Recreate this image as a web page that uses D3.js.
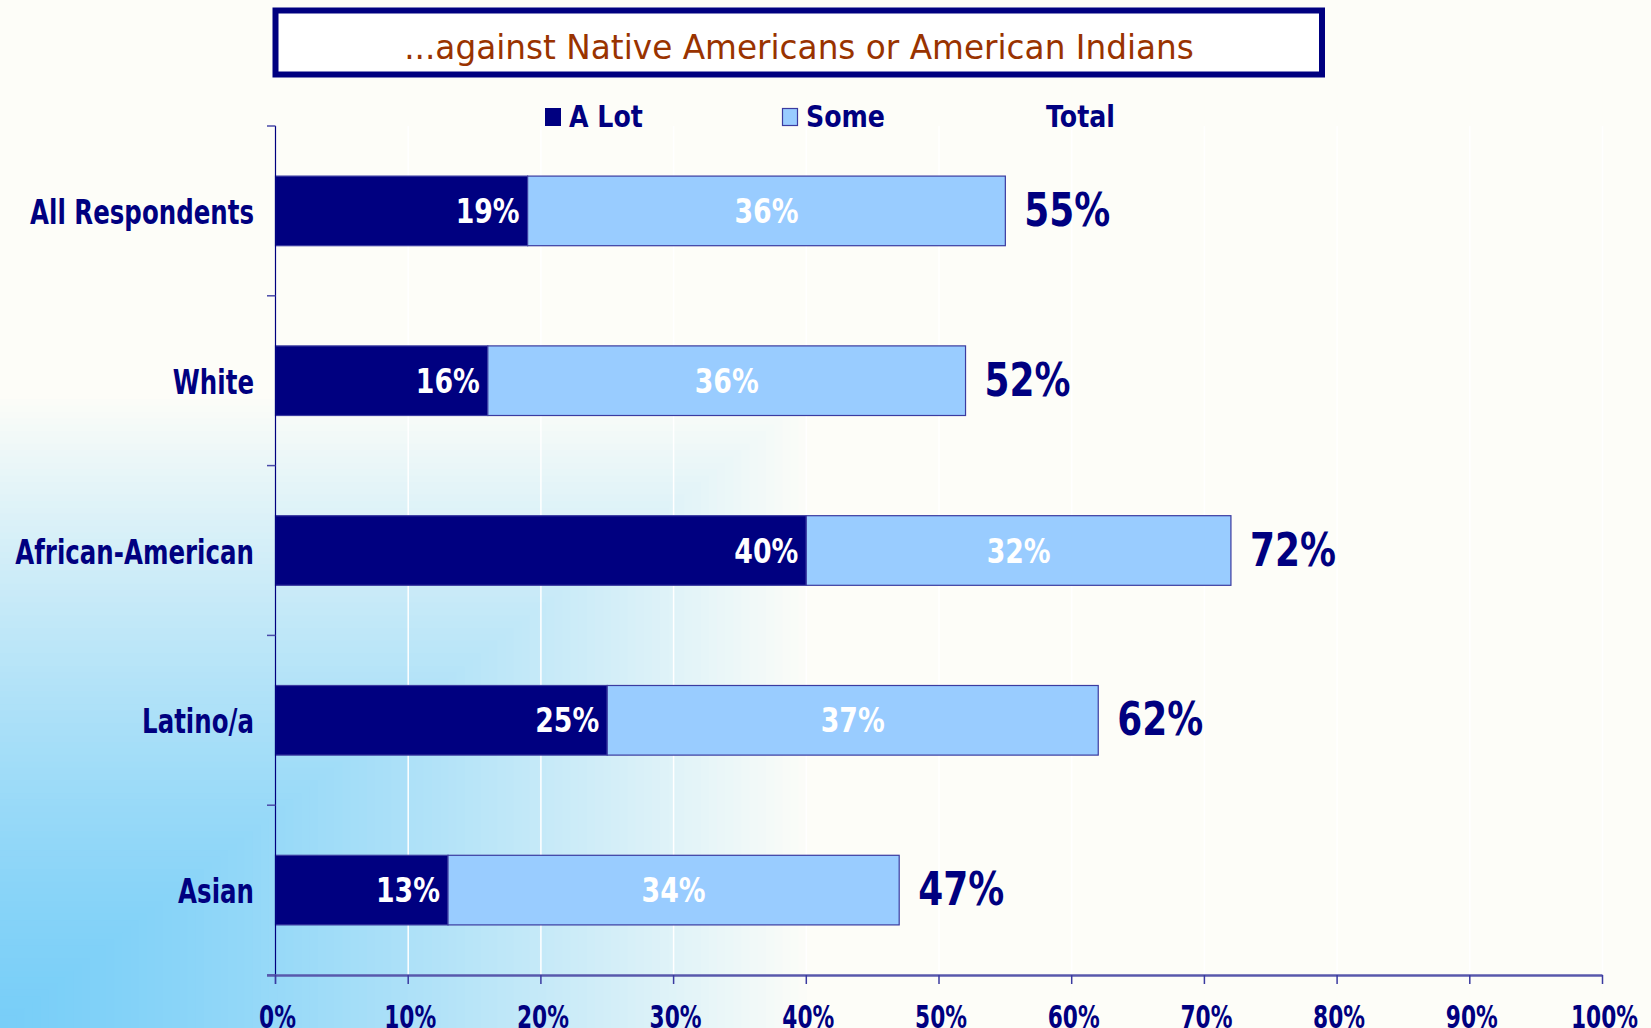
<!DOCTYPE html>
<html>
<head>
<meta charset="utf-8">
<script src="https://cdn.jsdelivr.net/npm/d3@7"></script>
<style>
  body { margin: 0; background: #FDFDF8; overflow: hidden; }
  text { font-family: "DejaVu Sans", sans-serif; }
</style>
</head>
<body>
<svg id="chart" width="1651" height="1028"></svg>
<script>
// data
var categories = ["All Respondents", "White", "African-American", "Latino/a", "Asian"];
var aLot   = [19, 16, 40, 25, 13];
var some   = [36, 36, 32, 37, 34];
var totals = [55, 52, 72, 62, 47];
var xTicks = [0, 10, 20, 30, 40, 50, 60, 70, 80, 90, 100];
var legendNames = ["A Lot", "Some", "Total"];
var titleText = "...against Native Americans or American Indians";

var W = 1651, H = 1028;
var navy = "#000080", light = "#99CCFF", edge = "#3B3BA0";

var svg = d3.select("#chart");

// background: rectangular gradient out of the bottom-left corner
var bgCol = d3.interpolateRgb("#78CEF8", "#FDFDF8");
svg.append("rect").attr("width", W).attr("height", H).attr("fill", "#FDFDF8");
var steps = d3.range(100);
svg.append("g").selectAll("rect").data(steps).join("rect")
  .attr("x", 0)
  .attr("y", function(i) { return H - (1 - i / 100) * 635; })
  .attr("width", function(i) { return (1 - i / 100) * 815; })
  .attr("height", function(i) { return (1 - i / 100) * 635; })
  .attr("fill", function(i) { return bgCol(Math.pow(1 - i / 100, 1.35)); });

// the reference font is tall and narrow: squeeze each text group to its width
function measure(txt, size, weight) {
  var p = svg.append("text").attr("font-size", size).attr("font-weight", weight).text(txt);
  var w = p.node().getComputedTextLength();
  p.remove();
  return w;
}
var sxCat   = 224 / measure("All Respondents", 34, "bold");
var sxVal   = 64 / measure("25%", 34, "bold");
var sxTot   = 86 / measure("55%", 46, "bold");
var sxLeg   = 69 / measure("Total", 31, "bold");
var sxTick  = 52 / measure("10%", 32, "bold");
var sxTitle = 790 / measure(titleText, 34, "normal");

function label(g, x, y, txt, size, color, anchor, sx, weight) {
  return g.append("text")
    .attr("transform", "translate(" + x + "," + y + ") scale(" + sx + ",1)")
    .attr("font-size", size)
    .attr("font-weight", weight || "bold")
    .attr("fill", color)
    .attr("text-anchor", anchor)
    .text(txt);
}

var x = d3.scaleLinear().domain([0, 100]).range([275.5, 1602.5]);
var y = d3.scaleBand().domain(categories).range([126, 975]).paddingInner(0.59).paddingOuter(0.295);

// white gridlines
svg.append("g").selectAll("line").data(xTicks.slice(1)).join("line")
  .attr("x1", function(d) { return x(d); }).attr("x2", function(d) { return x(d); })
  .attr("y1", 126).attr("y2", 975)
  .attr("stroke", "#FFFFFF").attr("stroke-width", 1.5);

// title box
svg.append("rect")
  .attr("x", 275.5).attr("y", 10.5).attr("width", 1046.5).attr("height", 64)
  .attr("fill", "#FFFFFF").attr("stroke", navy).attr("stroke-width", 6);
label(svg, 799, 58.5, titleText, 34, "#993300", "middle", sxTitle, "normal");

// legend
var lg = svg.append("g");
lg.append("rect").attr("x", 545).attr("y", 108).attr("width", 16).attr("height", 18)
  .attr("fill", navy);
label(lg, 569, 126.5, legendNames[0], 31, navy, "start", sxLeg);
lg.append("rect").attr("x", 782.5).attr("y", 108.5).attr("width", 15).attr("height", 17)
  .attr("fill", light).attr("stroke", edge).attr("stroke-width", 1.2);
label(lg, 806, 126.5, legendNames[1], 31, navy, "start", sxLeg);
label(lg, 1046, 126.5, legendNames[2], 31, navy, "start", sxLeg);

var rows = categories.map(function(c, i) {
  return { cat: c, lot: aLot[i], some: some[i], total: totals[i] };
});

// bars
var bars = svg.append("g");
bars.selectAll("rect.lot").data(rows).join("rect").attr("class", "lot")
  .attr("x", x(0)).attr("y", function(d) { return y(d.cat); })
  .attr("width", function(d) { return x(d.lot) - x(0); })
  .attr("height", y.bandwidth())
  .attr("fill", navy).attr("stroke", edge).attr("stroke-width", 1.2);
bars.selectAll("rect.some").data(rows).join("rect").attr("class", "some")
  .attr("x", function(d) { return x(d.lot); }).attr("y", function(d) { return y(d.cat); })
  .attr("width", function(d) { return x(d.lot + d.some) - x(d.lot); })
  .attr("height", y.bandwidth())
  .attr("fill", light).attr("stroke", edge).attr("stroke-width", 1.2);

// labels on and beside bars
var lab = svg.append("g");
rows.forEach(function(d) {
  var cy = y(d.cat) + y.bandwidth() / 2;
  label(lab, x(d.lot) - 8, cy + 12, d.lot + "%", 34, "#FFFFFF", "end", sxVal);
  label(lab, (x(d.lot) + x(d.lot + d.some)) / 2, cy + 12, d.some + "%", 34, "#FFFFFF", "middle", sxVal);
  label(lab, x(d.total) + 19, cy + 15, d.total + "%", 46, navy, "start", sxTot);
  label(lab, 254, cy + 13, d.cat, 34, navy, "end", sxCat);
});

// y axis
var ya = svg.append("g");
ya.append("line").attr("x1", 275.5).attr("x2", 275.5).attr("y1", 126).attr("y2", 984)
  .attr("stroke", navy).attr("stroke-width", 1.2);
var bounds = d3.range(categories.length + 1).map(function(i) { return 126 + i * y.step(); });
ya.selectAll("line.t").data(bounds).join("line").attr("class", "t")
  .attr("x1", 267).attr("x2", 275.5)
  .attr("y1", function(d) { return d; }).attr("y2", function(d) { return d; })
  .attr("stroke", "#4A4AA8").attr("stroke-width", 1.5);

// x axis
var xa = svg.append("g");
xa.append("line").attr("x1", 267).attr("x2", x(100)).attr("y1", 975.5).attr("y2", 975.5)
  .attr("stroke", "#5858AC").attr("stroke-width", 2.5);
xa.selectAll("line.t").data(xTicks).join("line").attr("class", "t")
  .attr("x1", function(d) { return x(d); }).attr("x2", function(d) { return x(d); })
  .attr("y1", 975).attr("y2", 984)
  .attr("stroke", "#3A3AA0").attr("stroke-width", 1.5);
xTicks.forEach(function(t) {
  label(xa, x(t) + 2, 1028, t + "%", 32, navy, "middle", sxTick);
});
</script>
</body>
</html>
